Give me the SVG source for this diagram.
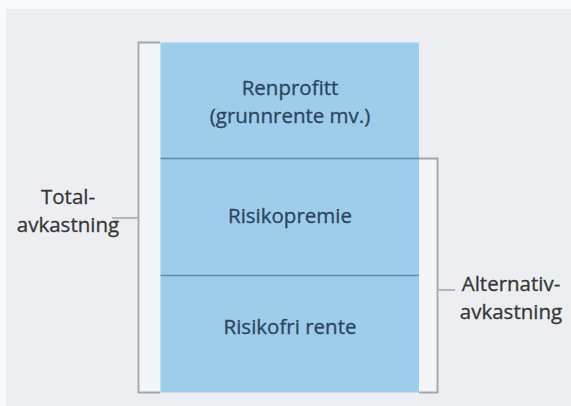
<svg xmlns="http://www.w3.org/2000/svg" width="571" height="406" viewBox="0 0 571 406">
<style>
.blk{fill:#9dcdea}
.div{stroke:#5f8cae;stroke-width:1.5;fill:none}
.brk{stroke:#a3a5a8;stroke-width:1.8;fill:#f4f5f6}
.tick{stroke:#a3a5a8;stroke-width:1.5;fill:none}
.in{font-family:"Open Sans","Noto Sans",sans-serif;font-size:20.5px;fill:#2b4460;stroke:#2b4460;stroke-width:0.3;text-anchor:middle}
.side{font-family:"Open Sans","Noto Sans",sans-serif;font-size:20.5px;fill:#353638;stroke:#353638;stroke-width:0.3;text-anchor:middle}
</style>
<rect x="0" y="0" width="571" height="406" fill="#f9fafb"/>
<rect x="6" y="9" width="565" height="397" fill="#eceef1"/>
<g id="connectors">
<path class="brk" d="M160,42.5 H138.5 V392.5 H160"/>
<path class="brk" d="M419,158.5 H437.5 V392.5 H419"/>
<line class="tick" x1="112" y1="218" x2="138" y2="218"/>
<line class="tick" x1="438" y1="290" x2="455" y2="290"/>
</g>
<g id="block-renprofitt">
<rect class="blk" x="160.5" y="42.5" width="258.5" height="116"/>
<text class="in" x="290" y="95">Renprofitt</text>
<text class="in" x="290" y="123">(grunnrente mv.)</text>
</g>
<g id="block-risikopremie">
<rect class="blk" x="160.5" y="158.5" width="258.5" height="117"/>
<text class="in" x="290" y="223">Risikopremie</text>
</g>
<g id="block-risikofri">
<rect class="blk" x="160.5" y="275.5" width="258.5" height="117"/>
<text class="in" x="290" y="334">Risikofri rente</text>
</g>
<g id="dividers">
<line class="div" x1="160.5" y1="158.5" x2="419" y2="158.5"/>
<line class="div" x1="160.5" y1="275.5" x2="419" y2="275.5"/>
</g>
<g id="label-total">
<text class="side" x="68" y="204">Total-</text>
<text class="side" x="68" y="232">avkastning</text>
</g>
<g id="label-alternativ">
<text class="side" x="511" y="291">Alternativ-</text>
<text class="side" x="511" y="319">avkastning</text>
</g>
</svg>
